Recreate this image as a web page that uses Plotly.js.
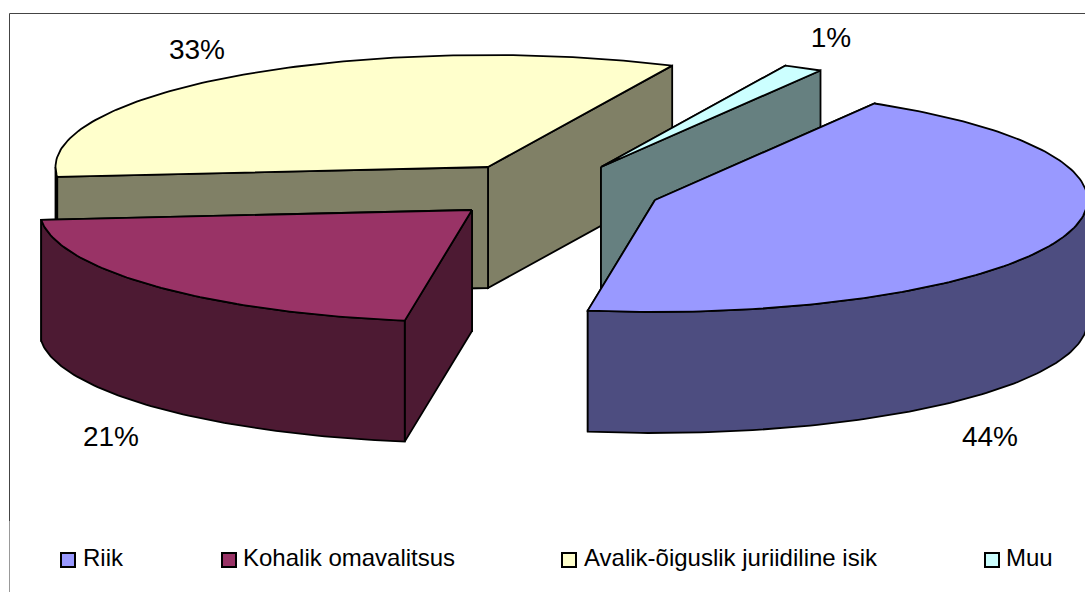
<!DOCTYPE html>
<html>
<head>
<meta charset="utf-8">
<script src="https://cdn.plot.ly/plotly-3.0.1.min.js"></script>
<style>html,body{margin:0;padding:0;background:#fff;overflow:hidden}#chart{width:1085px;height:592px}</style>
</head>
<body>
<div id="chart"></div>
<script>
// Data
const categories = ["Riik", "Kohalik omavalitsus", "Avalik-õiguslik juriidiline isik", "Muu"];
const shares = [44.0, 21.1, 33.4, 1.47];

// Styles
const topColors = ["#9999FF", "#993366", "#FFFFCC", "#CCFFFF"];
const sideColors = ["#4D4D80", "#4D1A33", "#808066", "#668080"];

// Layout of the fake-3D exploded pie, in pixel-like axis units
const apexX = [655, 472, 488, 601];
const apexY = [200, 210, 167, 167];
const radiusX = 432.5, radiusY = 112, depth = 121, firstAngle = 30.5;
const labelX = [990, 111, 197, 831];
const labelY = [439, 439, 52, 40];
const legendMarkX = [68, 229, 569, 992];
const legendTextX = [83, 243, 584, 1006];
const legendY = 560;
const drawOrder = [2, 3, 1, 0];

const total = shares.reduce((a, b) => a + b, 0);
const spans = shares.map(v => v / total * 360);
const starts = spans.map((_, i) => firstAngle + spans.slice(0, i).reduce((a, b) => a + b, 0));

const rimX = (i, a) => apexX[i] + radiusX * Math.sin(a * Math.PI / 180);
const rimY = (i, a) => apexY[i] - radiusY * Math.cos(a * Math.PI / 180);
const arc = (i, a0, a1) => {
  const n = Math.max(1, Math.ceil(Math.abs(a1 - a0)));
  const xs = [], ys = [];
  for (let k = 0; k <= n; k++) {
    const a = a0 + (a1 - a0) * k / n;
    xs.push(rimX(i, a)); ys.push(rimY(i, a));
  }
  return [xs, ys];
};
const poly = (xs, ys, color, name) => ({
  type: "scatter", mode: "lines", x: xs, y: ys, fill: "toself", fillcolor: color,
  line: {color: "#000", width: 1.8}, hoverinfo: "skip", showlegend: false, name
});

const traces = [];
drawOrder.forEach(i => {
  const a0 = starts[i], a1 = a0 + spans[i];
  // radial walls, the farther one first
  [a0, a1].sort((p, q) => rimY(i, p) - rimY(i, q)).forEach(a => {
    const x = rimX(i, a), y = rimY(i, a);
    traces.push(poly([apexX[i], x, x, apexX[i], apexX[i]],
                     [apexY[i], y, y + depth, apexY[i] + depth, apexY[i]], sideColors[i], categories[i]));
  });
  // outer curved wall, only the part that faces the viewer
  const f0 = Math.max(a0, 90), f1 = Math.min(a1, 270);
  if (f1 > f0) {
    const [xs, ys] = arc(i, f0, f1);
    traces.push(poly(xs.concat(xs.slice().reverse(), [xs[0]]),
                     ys.concat(ys.map(v => v + depth).reverse(), [ys[0]]), sideColors[i], categories[i]));
  }
  // top face
  const [tx, ty] = arc(i, a0, a1);
  traces.push(poly([apexX[i]].concat(tx, [apexX[i]]), [apexY[i]].concat(ty, [apexY[i]]), topColors[i], categories[i]));
});

// percent labels
traces.push({
  type: "scatter", mode: "text", x: labelX, y: labelY,
  text: shares.map(v => Math.round(v / total * 100) + "%"),
  textposition: "middle center", cliponaxis: false,
  textfont: {family: "Liberation Sans, Arial, sans-serif", size: 28, color: "#000"},
  hoverinfo: "skip", showlegend: false
});

// legend row
traces.push({
  type: "scatter", mode: "markers", x: legendMarkX, y: categories.map(() => legendY),
  cliponaxis: false,
  marker: {symbol: "square", size: 14, color: topColors, line: {color: "#000", width: 2}},
  hoverinfo: "skip", showlegend: false
});
traces.push({
  type: "scatter", mode: "text", x: legendTextX, y: categories.map(() => legendY),
  text: categories, textposition: "middle right", cliponaxis: false,
  textfont: {family: "Liberation Sans, Arial, sans-serif", size: 24, color: "#000"},
  hoverinfo: "skip", showlegend: false
});

const hidden = {visible: false, fixedrange: true};
const layout = {
  width: 1085, height: 592, margin: {l: 0, r: 0, t: 0, b: 0},
  paper_bgcolor: "#fff", plot_bgcolor: "#fff", showlegend: false,
  xaxis: Object.assign({range: [0, 1085]}, hidden),
  yaxis: Object.assign({range: [592, 0]}, hidden),
  shapes: [
    {type: "line", xref: "x", yref: "y", x0: 9.5, x1: 1085, y0: 13.5, y1: 13.5, line: {color: "#444", width: 1}},
    {type: "line", xref: "x", yref: "y", x0: 9.5, x1: 9.5, y0: 13.5, y1: 521, line: {color: "#444", width: 1}},
    {type: "line", xref: "x", yref: "y", x0: 9.5, x1: 9.5, y0: 521, y1: 592, line: {color: "#999", width: 1}}
  ]
};
Plotly.newPlot("chart", traces, layout, {displayModeBar: false, staticPlot: true});
</script>
</body>
</html>
